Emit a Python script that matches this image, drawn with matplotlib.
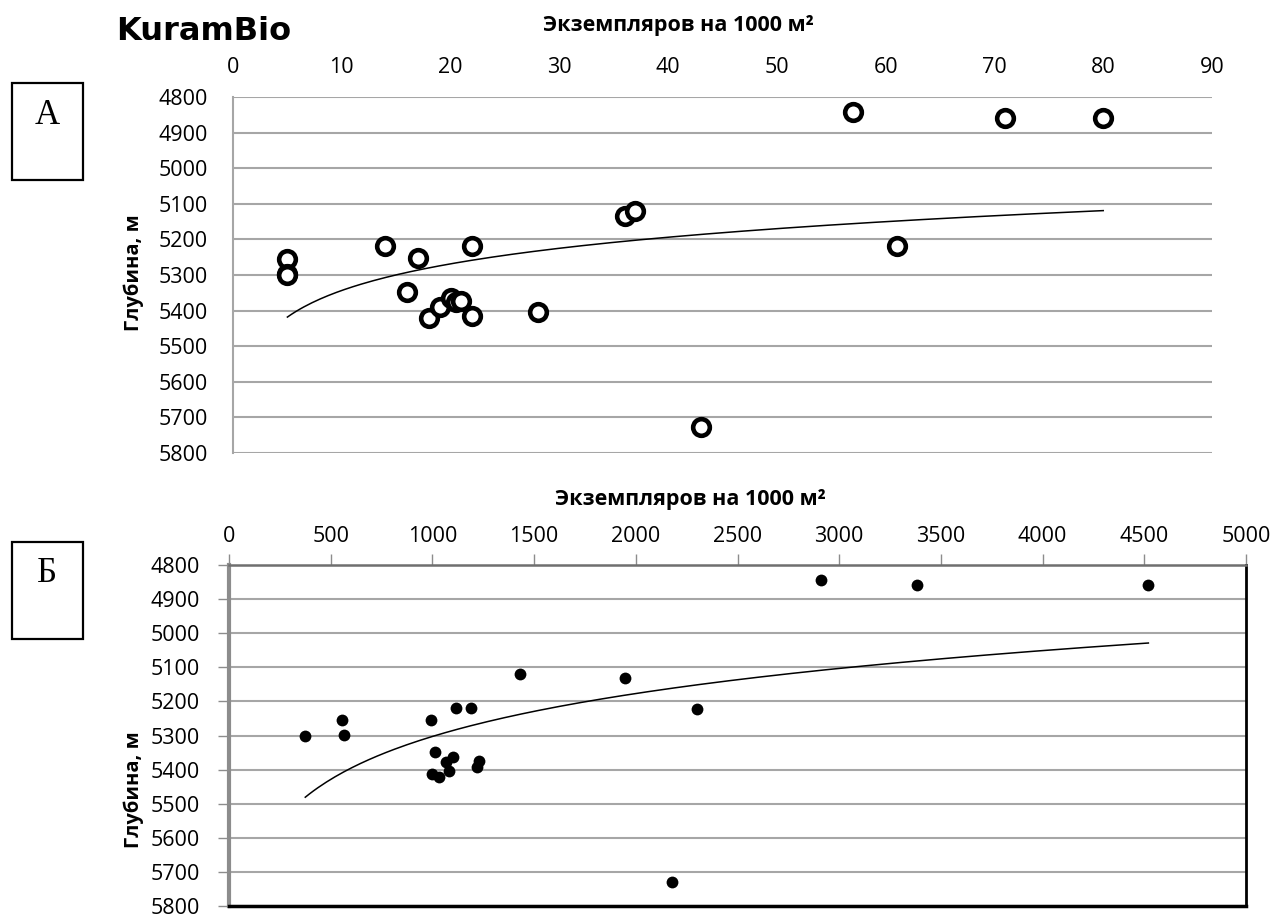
import numpy as np
import matplotlib
matplotlib.use("Agg")
import matplotlib.pyplot as plt
from matplotlib.patches import Rectangle

# ---------------- data ----------------
# Panel A: abundance (specimens per 1000 m2) vs depth
a_abund = [5, 5, 5, 14, 17, 16, 18, 19, 20, 20.5, 21, 22, 22, 28, 36, 37, 43, 57, 61, 71, 80]
a_depth = [5255, 5298, 5300, 5218, 5253, 5349, 5422, 5390, 5365, 5375, 5373, 5218, 5414, 5403, 5133, 5119, 5728, 4843, 5219, 4858, 4858]

# Panel B
b_abund = [375, 554, 567, 994, 1115, 1190, 1431, 1013, 1103, 1067, 1084, 1000, 1033, 1231, 1218, 1945, 2300, 2176, 2912, 3384, 4520]
b_depth = [5300, 5255, 5298, 5255, 5219, 5219, 5119, 5349, 5362, 5378, 5403, 5413, 5423, 5375, 5393, 5131, 5221, 5730, 4844, 4858, 4858]

y_ticks = [4800, 4900, 5000, 5100, 5200, 5300, 5400, 5500, 5600, 5700, 5800]
a_xticks = [0, 10, 20, 30, 40, 50, 60, 70, 80, 90]
b_xticks = [0, 500, 1000, 1500, 2000, 2500, 3000, 3500, 4000, 4500, 5000]

x_label = "Экземпляров на 1000 м²"
y_label = "Глубина, м"

# ---------------- figure ----------------
W, H = 1280, 917
fig = plt.figure(figsize=(W / 100, H / 100), dpi=100)

tick_font = ["Open Sans", "DejaVu Sans"]
lab_font = ["Open Sans", "DejaVu Sans"]
grid_col = "#a6a6a6"
TICK_FS = 15.5
TITLE_FS = 15.5
YLAB_FS = 14.5


def log_fit(x, y):
    x = np.asarray(x, float)
    y = np.asarray(y, float)
    b, a = np.polyfit(np.log(x), y, 1)
    xs = np.linspace(x.min(), x.max(), 200)
    return xs, a + b * np.log(xs)


def px_axes(l, r, t, b):
    return fig.add_axes([l / W, 1 - b / H, (r - l) / W, (b - t) / H])


# ---- Panel A ----
axA = px_axes(233, 1212, 97, 453)
axA.set_xlim(0, 90)
axA.set_ylim(5800, 4800)
axA.set_yticks(y_ticks)
axA.set_xticks(a_xticks)
axA.xaxis.tick_top()
axA.tick_params(axis="both", length=0, labelsize=TICK_FS)
axA.tick_params(axis="x", pad=14)
axA.tick_params(axis="y", pad=18)
for lab in axA.get_xticklabels() + axA.get_yticklabels():
    lab.set_fontfamily(tick_font)
axA.grid(axis="y", color=grid_col, lw=1.5)
axA.grid(axis="x", visible=False)
for s in ["top", "right", "bottom"]:
    axA.spines[s].set_visible(False)
axA.spines["left"].set_color(grid_col)
axA.spines["left"].set_linewidth(1.5)
axA.set_axisbelow(True)

xs, ys = log_fit(a_abund, a_depth)
axA.plot(xs, ys, color="black", lw=1.1)
axA.plot(a_abund, a_depth, linestyle="none", marker="o", markersize=12,
         markerfacecolor="white", markeredgecolor="black", markeredgewidth=3.3, clip_on=False)

fig.text(678 / W, 1 - 25 / H, x_label, ha="center", va="center", fontsize=TITLE_FS,
         fontweight="bold", family=lab_font)
fig.text(134 / W, 1 - 273 / H, y_label, ha="center", va="center", fontsize=YLAB_FS,
         fontweight="bold", family=lab_font, rotation=90)

# ---- Panel B ----
axB = px_axes(229, 1246, 565, 906)
axB.set_xlim(0, 5000)
axB.set_ylim(5800, 4800)
axB.set_yticks(y_ticks)
axB.set_xticks(b_xticks)
axB.xaxis.tick_top()
axB.tick_params(axis="x", length=8, width=1, color="#8c8c8c", labelsize=TICK_FS, pad=5)
axB.tick_params(axis="y", length=8, width=1, color="#8c8c8c", labelsize=TICK_FS, pad=13)
for lab in axB.get_xticklabels() + axB.get_yticklabels():
    lab.set_fontfamily(tick_font)
axB.grid(axis="y", color=grid_col, lw=1.5)
axB.grid(axis="x", visible=False)
axB.spines["left"].set_color("#8c8c8c")
axB.spines["left"].set_linewidth(3)
axB.spines["top"].set_color("#6f6f6f")
axB.spines["top"].set_linewidth(1.8)
axB.spines["right"].set_color("black")
axB.spines["right"].set_linewidth(2)
axB.spines["bottom"].set_color("black")
axB.spines["bottom"].set_linewidth(2.5)
axB.set_axisbelow(True)

xs, ys = log_fit(b_abund, b_depth)
axB.plot(xs, ys, color="black", lw=1.1)
axB.plot(b_abund, b_depth, linestyle="none", marker="o", markersize=8.5,
         markerfacecolor="black", markeredgewidth=0, clip_on=False)

fig.text(690 / W, 1 - 500 / H, x_label, ha="center", va="center", fontsize=TITLE_FS,
         fontweight="bold", family=lab_font)
fig.text(134 / W, 1 - 790 / H, y_label, ha="center", va="center", fontsize=YLAB_FS,
         fontweight="bold", family=lab_font, rotation=90)

# ---- Logo and panel letters ----
fig.text(204 / W, 1 - 32 / H, "KuramBio", ha="center", va="center", fontsize=23,
         fontweight="bold", family=["DejaVu Sans"])

for top, letter in [(83, "А"), (542, "Б")]:
    fig.patches.append(Rectangle((12 / W, 1 - (top + 97) / H), 71 / W, 97 / H,
                                 transform=fig.transFigure, fill=False,
                                 edgecolor="black", lw=1.6))
    fig.text(47 / W, 1 - (top + 32) / H, letter, ha="center", va="center",
             fontsize=25, family=["Liberation Serif", "DejaVu Serif"])

fig.savefig("out.png", dpi=100)
